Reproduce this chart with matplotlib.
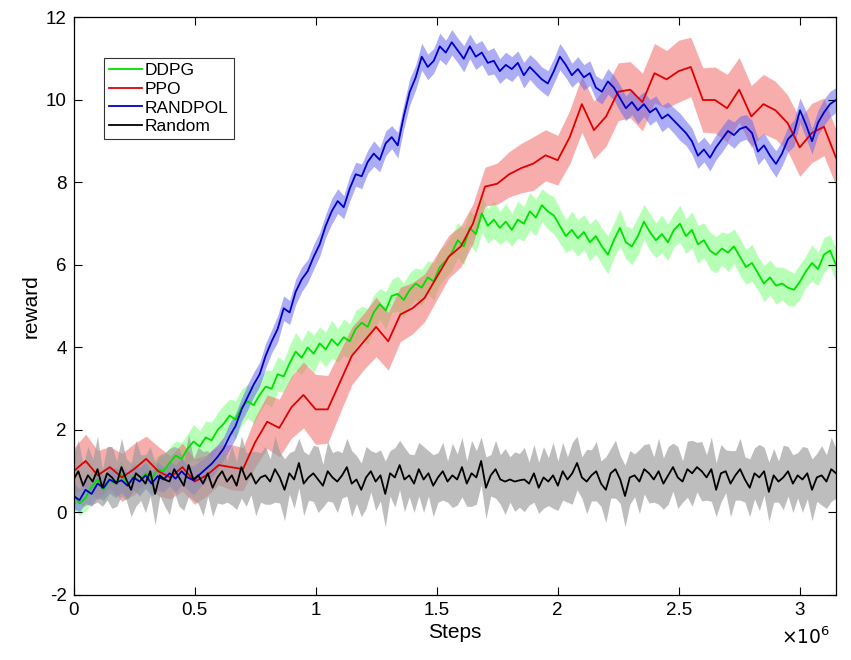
import numpy as np
import matplotlib
matplotlib.use('Agg')
import matplotlib.pyplot as plt
from matplotlib.ticker import FuncFormatter

plt.rcParams['font.family'] = ['Liberation Sans', 'DejaVu Sans']
plt.rcParams['axes.unicode_minus'] = False

# DDPG (128 evaluations)
ddpg_mean = [
    0.45, 0.22, 0.35, 0.62, 0.80, 0.55, 0.78, 0.70,
    0.92, 0.65, 0.88, 0.75, 0.95, 0.82, 1.05, 1.00,
    1.20, 1.38, 1.30, 1.55, 1.72, 1.60, 1.82, 1.75,
    2.00, 2.15, 2.35, 2.25, 2.55, 2.70, 2.60, 2.85,
    3.05, 3.00, 3.35, 3.30, 3.62, 3.90, 3.75, 4.00,
    3.85, 4.10, 3.95, 4.20, 4.05, 4.25, 4.15, 4.45,
    4.60, 4.50, 4.85, 5.05, 4.90, 5.25, 5.30, 5.15,
    5.40, 5.55, 5.45, 5.70, 5.60, 5.95, 6.10, 6.30,
    6.60, 6.45, 6.90, 6.75, 7.25, 6.95, 7.10, 6.90,
    7.05, 6.85, 7.10, 7.00, 7.30, 7.15, 7.45, 7.30,
    7.20, 6.95, 6.70, 6.85, 6.65, 6.80, 6.55, 6.70,
    6.45, 6.25, 6.60, 6.90, 6.55, 6.45, 6.70, 7.05,
    6.80, 6.60, 6.75, 6.55, 6.85, 7.00, 6.70, 6.85,
    6.50, 6.60, 6.35, 6.25, 6.40, 6.30, 6.45, 6.20,
    5.95, 6.05, 5.80, 5.55, 5.70, 5.50, 5.55, 5.45,
    5.40, 5.60, 5.85, 6.05, 5.90, 6.25, 6.35, 6.00]
ddpg_std = [
    0.35, 0.30, 0.32, 0.38, 0.30, 0.35, 0.33, 0.36,
    0.34, 0.30, 0.36, 0.32, 0.35, 0.38, 0.33, 0.36,
    0.38, 0.35, 0.40, 0.36, 0.42, 0.38, 0.40, 0.44,
    0.42, 0.45, 0.40, 0.46, 0.44, 0.40, 0.45, 0.42,
    0.40, 0.45, 0.42, 0.38, 0.44, 0.46, 0.40, 0.43,
    0.45, 0.40, 0.42, 0.46, 0.40, 0.44, 0.42, 0.45,
    0.40, 0.44, 0.42, 0.38, 0.45, 0.40, 0.43, 0.41,
    0.42, 0.38, 0.44, 0.40, 0.45, 0.42, 0.40, 0.44,
    0.42, 0.45, 0.40, 0.44, 0.46, 0.42, 0.45, 0.40,
    0.44, 0.40, 0.45, 0.42, 0.46, 0.44, 0.40, 0.43,
    0.45, 0.42, 0.40, 0.46, 0.44, 0.42, 0.45, 0.43,
    0.44, 0.46, 0.42, 0.45, 0.40, 0.44, 0.46, 0.42,
    0.45, 0.42, 0.46, 0.44, 0.40, 0.45, 0.42, 0.44,
    0.46, 0.42, 0.45, 0.44, 0.40, 0.46, 0.42, 0.45,
    0.42, 0.45, 0.40, 0.44, 0.42, 0.45, 0.40, 0.43,
    0.40, 0.42, 0.38, 0.44, 0.40, 0.42, 0.38, 0.40]

# RANDPOL (128 evaluations)
randpol_mean = [
    0.40, 0.30, 0.55, 0.45, 0.70, 0.60, 0.80, 0.72,
    0.78, 0.65, 0.85, 0.75, 0.90, 0.70, 0.88, 0.80,
    0.95, 0.82, 1.00, 0.85, 0.78, 0.92, 1.05, 1.18,
    1.35, 1.55, 1.85, 2.10, 2.50, 2.80, 3.10, 3.35,
    3.80, 4.15, 4.45, 4.95, 4.85, 5.35, 5.65, 5.85,
    6.20, 6.50, 6.95, 7.30, 7.55, 7.40, 7.85, 8.20,
    8.15, 8.50, 8.70, 8.55, 8.95, 9.10, 8.90, 9.60,
    10.20, 10.55, 11.05, 10.80, 10.95, 11.30, 11.15, 11.40,
    11.20, 11.00, 11.30, 11.05, 11.15, 10.90, 10.95, 10.70,
    10.85, 10.75, 10.90, 10.60, 10.80, 10.65, 10.50, 10.40,
    10.70, 11.05, 10.85, 10.60, 10.75, 10.55, 10.65, 10.30,
    10.20, 10.45, 10.30, 10.05, 9.80, 9.95, 9.75, 9.90,
    9.70, 9.80, 9.55, 9.65, 9.50, 9.35, 9.20, 9.00,
    8.65, 8.80, 8.60, 8.85, 9.05, 9.25, 9.15, 9.30,
    9.35, 9.20, 8.75, 8.90, 8.65, 8.45, 8.70, 9.05,
    9.20, 9.75, 9.40, 9.00, 9.45, 9.70, 9.90, 10.00]
randpol_std = [
    0.30, 0.28, 0.32, 0.30, 0.34, 0.30, 0.32, 0.35,
    0.30, 0.33, 0.30, 0.35, 0.32, 0.30, 0.34, 0.31,
    0.30, 0.34, 0.32, 0.30, 0.35, 0.32, 0.30, 0.33,
    0.30, 0.28, 0.32, 0.30, 0.28, 0.31, 0.30, 0.29,
    0.30, 0.28, 0.32, 0.30, 0.29, 0.31, 0.30, 0.28,
    0.30, 0.29, 0.28, 0.31, 0.30, 0.28, 0.30, 0.29,
    0.30, 0.28, 0.31, 0.29, 0.30, 0.28, 0.31, 0.30,
    0.32, 0.30, 0.33, 0.31, 0.30, 0.32, 0.30, 0.31,
    0.30, 0.32, 0.30, 0.31, 0.29, 0.30, 0.32, 0.30,
    0.31, 0.30, 0.29, 0.31, 0.30, 0.32, 0.30, 0.31,
    0.30, 0.32, 0.31, 0.29, 0.30, 0.31, 0.30, 0.29,
    0.30, 0.31, 0.30, 0.32, 0.30, 0.31, 0.33, 0.30,
    0.31, 0.30, 0.32, 0.30, 0.31, 0.33, 0.30, 0.32,
    0.31, 0.30, 0.32, 0.30, 0.31, 0.30, 0.32, 0.31,
    0.30, 0.31, 0.32, 0.30, 0.31, 0.32, 0.30, 0.31,
    0.32, 0.30, 0.33, 0.31, 0.30, 0.32, 0.31, 0.30]

# PPO (64 evaluations)
ppo_mean = [
    1.00, 1.25, 0.90, 1.10, 0.85, 1.05, 1.30, 1.00,
    0.85, 1.10, 0.75, 0.90, 1.15, 1.10, 1.05, 1.70,
    2.20, 2.05, 2.55, 2.85, 2.50, 2.50, 3.15, 3.80,
    4.15, 4.50, 4.15, 4.80, 4.95, 5.20, 5.70, 6.20,
    6.45, 7.00, 7.90, 7.97, 8.20, 8.35, 8.46, 8.66,
    8.54, 9.10, 9.90, 9.27, 9.60, 10.20, 10.25, 9.95,
    10.65, 10.50, 10.70, 10.80, 10.00, 10.00, 9.80, 10.25,
    9.60, 9.90, 9.75, 9.44, 8.85, 9.20, 9.35, 8.60]
ppo_std = [
    0.55, 0.65, 0.60, 0.50, 0.58, 0.62, 0.55, 0.60,
    0.52, 0.58, 0.55, 0.50, 0.48, 0.55, 0.52, 0.60,
    0.65, 0.70, 0.75, 0.80, 0.85, 0.82, 0.75, 0.70,
    0.68, 0.72, 0.70, 0.66, 0.62, 0.58, 0.55, 0.52,
    0.50, 0.48, 0.47, 0.50, 0.55, 0.60, 0.65, 0.62,
    0.60, 0.65, 0.68, 0.70, 0.72, 0.70, 0.68, 0.70,
    0.72, 0.70, 0.75, 0.72, 0.78, 0.80, 0.82, 0.78,
    0.75, 0.72, 0.70, 0.68, 0.70, 0.72, 0.70, 0.68]

# Random policy (160 evaluations)
random_mean = [
    0.80, 1.00, 0.65, 0.90, 0.75, 1.05, 0.60, 0.95, 0.85, 0.70,
    1.10, 0.80, 0.55, 0.95, 0.85, 0.70, 1.00, 0.45, 0.90, 0.80,
    0.75, 1.05, 0.85, 0.65, 1.15, 0.80, 0.90, 0.70, 0.95, 0.60,
    0.85, 1.00, 0.75, 0.90, 0.65, 1.10, 0.80, 0.95, 0.70, 0.85,
    0.90, 0.75, 1.05, 0.85, 0.55, 0.95, 0.80, 1.20, 0.70, 0.85,
    0.95, 0.80, 0.65, 1.00, 0.85, 0.75, 0.90, 1.10, 0.70, 0.80,
    0.55, 0.85, 1.00, 0.75, 0.90, 0.45, 0.95, 0.85, 1.15, 0.80,
    0.90, 0.70, 1.05, 0.80, 0.95, 0.65, 0.85, 1.00, 0.75, 0.90,
    0.80, 1.10, 0.70, 0.95, 0.85, 1.25, 0.60, 0.90, 1.05, 0.80,
    0.75, 0.80, 0.75, 0.78, 0.80, 0.70, 0.95, 0.60, 0.85, 0.75,
    0.90, 0.65, 1.00, 0.80, 0.95, 1.20, 0.85, 0.75, 0.90, 1.00,
    0.70, 0.55, 0.95, 1.05, 0.80, 0.40, 0.85, 0.90, 0.75, 1.05,
    0.95, 0.80, 1.00, 0.70, 0.90, 1.10, 0.85, 0.75, 1.05, 0.95,
    1.10, 1.00, 0.85, 1.05, 0.55, 0.95, 1.00, 0.70, 0.90, 1.05,
    0.80, 0.60, 0.95, 0.85, 1.00, 0.50, 0.90, 0.75, 0.85, 1.00,
    0.70, 0.90, 0.80, 0.95, 0.55, 0.85, 0.90, 0.75, 1.05, 0.95]
random_std = [
    0.60, 0.75, 0.50, 0.70, 0.55, 0.80, 0.45, 0.65, 0.75, 0.55,
    0.70, 0.50, 0.65, 0.80, 0.55, 0.70, 0.60, 0.75, 0.50, 0.65,
    0.80, 0.55, 0.70, 0.60, 0.75, 0.50, 0.68, 0.78, 0.55, 0.70,
    0.62, 0.80, 0.50, 0.72, 0.58, 0.75, 0.65, 0.52, 0.78, 0.60,
    0.70, 0.55, 0.80, 0.62, 0.75, 0.50, 0.70, 0.60, 0.78, 0.55,
    0.68, 0.80, 0.52, 0.72, 0.60, 0.75, 0.55, 0.70, 0.80, 0.58,
    0.65, 0.75, 0.50, 0.70, 0.62, 0.80, 0.55, 0.72, 0.60, 0.78,
    0.52, 0.70, 0.65, 0.80, 0.55, 0.75, 0.60, 0.70, 0.50, 0.78,
    0.62, 0.72, 0.55, 0.80, 0.65, 0.58, 0.75, 0.50, 0.70, 0.60,
    0.80, 0.55, 0.72, 0.65, 0.78, 0.52, 0.70, 0.62, 0.75, 0.58,
    0.80, 0.60, 0.70, 0.55, 0.75, 0.65, 0.50, 0.78, 0.62, 0.72,
    0.55, 0.80, 0.60, 0.70, 0.58, 0.75, 0.65, 0.52, 0.78, 0.60,
    0.72, 0.55, 0.80, 0.62, 0.70, 0.58, 0.75, 0.50, 0.68, 0.80,
    0.60, 0.72, 0.55, 0.78, 0.65, 0.70, 0.52, 0.80, 0.60, 0.75,
    0.55, 0.70, 0.62, 0.80, 0.58, 0.72, 0.65, 0.50, 0.78, 0.60,
    0.70, 0.55, 0.80, 0.62, 0.75, 0.58, 0.72, 0.65, 0.78, 0.60]

max_steps = 3.15e6


def steps_for(values):
    return np.linspace(0, max_steps, len(values)) / 1e6


series = [
    ('DDPG', ddpg_mean, ddpg_std, '#00e000', '#33ff33', 0.35),
    ('PPO', ppo_mean, ppo_std, '#e00000', '#f36b6b', 0.55),
    ('RANDPOL', randpol_mean, randpol_std, '#0000c8', '#6b6bee', 0.55),
    ('Random', random_mean, random_std, '#000000', '#9a9a9a', 0.65),
]

fig = plt.figure(figsize=(8.51, 6.60), dpi=100)
ax = fig.add_axes([0.0864, 0.0985, 0.896, 0.875])

for name, m, s, line_col, band_col, a in series:
    x = steps_for(m)
    m = np.array(m)
    s = np.array(s)
    ax.fill_between(x, m - s, m + s, color=band_col, alpha=a, linewidth=0)
    ax.plot(x, m, color=line_col, linewidth=1.3, label=name)

ax.set_xlim(0, max_steps / 1e6)
ax.set_ylim(-2, 12)
ax.set_xticks([0, 0.5, 1, 1.5, 2, 2.5, 3])
ax.set_yticks(range(-2, 13, 2))
ax.xaxis.set_major_formatter(FuncFormatter(lambda v, p: '%g' % v))
ax.tick_params(direction='in', top=True, right=True, labelsize=13.5, length=6,
               width=0.8, pad=5)
for sp in ax.spines.values():
    sp.set_linewidth(0.9)

ax.set_xlabel('Steps', fontsize=15, labelpad=3)
ax.set_ylabel('reward', fontsize=15, labelpad=4)
ax.text(0.993, -0.054, r'$\times10^6$', transform=ax.transAxes, ha='right',
        va='top', fontsize=13.5)

leg = ax.legend(loc='upper left', bbox_to_anchor=(0.04, 0.93), fontsize=12.5,
                frameon=True, fancybox=False, handlelength=1.9,
                handletextpad=0.15, borderpad=0.3, labelspacing=0.2,
                borderaxespad=0)
leg.get_frame().set_edgecolor('black')
leg.get_frame().set_linewidth(0.8)

fig.savefig('out.png', dpi=100)
